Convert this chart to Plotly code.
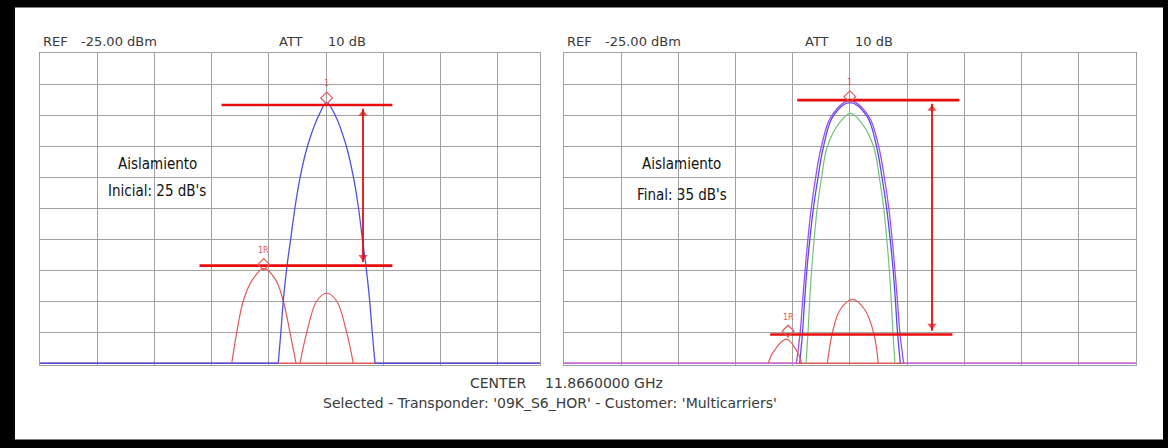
import plotly.graph_objects as go

W, H = 1168, 448

# ---------------- data (screen divisions: x from left edge of each display, y from bottom) -------------
# Left display (initial isolation)
L_BLUE_X = [4.164, 4.208, 4.258, 4.315, 4.382, 4.458, 4.548, 4.680, 4.875, 5.010, 5.156, 5.348, 5.476, 5.563, 5.633, 5.698, 5.755, 5.808, 5.855]
L_BLUE_Y = [0, 0.97, 2.15, 3.12, 4.03, 5.05, 6.02, 7.04, 8.01, 8.41, 8.01, 7.04, 6.02, 5.05, 4.03, 3.12, 2.15, 0.97, 0]
L_RED_A_X = [3.350, 3.437, 3.552, 3.710, 3.914, 4.119, 4.252, 4.369, 4.474]
L_RED_A_Y = [0, 0.99, 2.01, 2.69, 3.06, 2.69, 2.01, 0.99, 0]
L_RED_B_X = [4.544, 4.661, 4.836, 5.010, 5.185, 5.360, 5.476]
L_RED_B_Y = [0, 0.99, 2.01, 2.26, 2.01, 0.99, 0]
L_LEVEL_TOP = 8.33
L_LEVEL_BOT = 3.15
L_TOP_SPAN = [3.173, 6.159]
L_BOT_SPAN = [2.787, 6.159]
L_ARROW_X = 5.645
L_MARKERS = {"1": (5.01, 8.56), "1R": (3.91, 3.19)}

# Right display (final isolation)
R_VIOLET_X = [4.064, 4.131, 4.172, 4.216, 4.265, 4.323, 4.399, 4.498, 4.672, 5.002, 5.332, 5.506, 5.605, 5.681, 5.739, 5.788, 5.832, 5.873, 5.940]
R_VIOLET_Y = [0, 1.0, 1.99, 2.99, 3.98, 4.99, 5.97, 6.97, 7.96, 8.47, 7.96, 6.97, 5.97, 4.99, 3.98, 2.99, 1.99, 1.0, 0]
R_BLUE_X = [4.122, 4.172, 4.207, 4.247, 4.299, 4.361, 4.440, 4.536, 4.702, 5.002, 5.302, 5.468, 5.564, 5.643, 5.705, 5.757, 5.797, 5.832, 5.882]
R_BLUE_Y = [0, 1.0, 1.99, 2.99, 3.98, 4.99, 5.97, 6.97, 7.96, 8.41, 7.96, 6.97, 5.97, 4.99, 3.98, 2.99, 1.99, 1.0, 0]
R_GREEN_X = [4.232, 4.268, 4.296, 4.330, 4.374, 4.428, 4.503, 4.602, 4.810, 5.010, 5.210, 5.418, 5.517, 5.592, 5.646, 5.690, 5.724, 5.752, 5.788]
R_GREEN_Y = [0, 1.0, 1.99, 2.99, 3.98, 4.99, 5.97, 6.97, 7.74, 8.06, 7.74, 6.97, 5.97, 4.99, 3.98, 2.99, 1.99, 1.0, 0]
R_RED_A_X = [3.573, 3.661, 3.892, 4.080, 4.157]
R_RED_A_Y = [0, 0.37, 0.78, 0.37, 0]
R_RED_B_X = [4.605, 4.696, 4.827, 5.049, 5.264, 5.413, 5.497]
R_RED_B_Y = [0, 1.0, 1.72, 2.06, 1.72, 1.0, 0]
R_LEVEL_TOP = 8.49
R_LEVEL_BOT = 0.93
R_TOP_SPAN = [4.08, 6.914]
R_BOT_SPAN = [3.607, 6.792]
R_ARROW_X = 6.435
R_MARKERS = {"1": (5.00, 8.60), "1R": (3.92, 1.04)}

L_XMAX = 8.74
R_XMAX = 10
Y_MAX = 10

HEADER_REF = "REF"
HEADER_REF_VAL = "-25.00 dBm"
HEADER_ATT = "ATT"
HEADER_ATT_VAL = "10 dB"
CENTER_LBL = "CENTER"
CENTER_VAL = "11.8660000 GHz"
FOOTER = "Selected - Transponder: '09K_S6_HOR' - Customer: 'Multicarriers'"
L_NOTE = ["Aislamiento", "Inicial: 25 dB's"]
R_NOTE = ["Aislamiento", "Final: 35 dB's"]

# ---------------- styles ----------------
C_BLUE = "#5050e6"
C_RED = "#e25a5a"
C_REDLINE = "#e80c0c"
C_VIOLET = "#a24cf2"
C_GREEN = "#78c078"
C_BASE_R = "#c46ee6"
C_GRID = "#a0a0a0"
HDR_FONT = dict(family="DejaVu Sans", size=13, color="#3a3a3a")
BOT_FONT = dict(family="DejaVu Sans", size=14, color="#3a3a3a")
NOTE_FONT = dict(family="Liberation Sans Narrow, DejaVu Sans Condensed, Arial Narrow, Liberation Sans", size=15, color="#111111")

# pixel geometry
PX_TOP, PX_BOT0 = 53.3, 363.3
DIV_Y = 31.0
Y_MIN = -0.05
PX_BOT = PX_BOT0 - Y_MIN * DIV_Y
L_LEFT, R_LEFT, DIV_X = 40.1, 563.9, 57.2

fig = go.Figure()

def line(x, y, color, width, xa, ya, spline=True):
    fig.add_trace(go.Scatter(x=x, y=y, mode="lines", xaxis=xa, yaxis=ya,
                             line=dict(color=color, width=width,
                                       shape="spline" if spline else "linear", smoothing=1.0),
                             hoverinfo="skip", showlegend=False))

# ---- left display ----
line([0, L_XMAX], [0, 0], C_RED, 1.4, "x", "y", False)
line([0, L_BLUE_X[0]], [0, 0], C_BLUE, 1.6, "x", "y", False)
line([L_BLUE_X[-1], L_XMAX], [0, 0], C_BLUE, 1.6, "x", "y", False)
line(L_RED_A_X, L_RED_A_Y, C_RED, 1.2, "x", "y")
line(L_RED_B_X, L_RED_B_Y, C_RED, 1.2, "x", "y")
line(L_BLUE_X, L_BLUE_Y, C_BLUE, 1.3, "x", "y")
line(L_TOP_SPAN, [L_LEVEL_TOP] * 2, C_REDLINE, 2.6, "x", "y", False)
line(L_BOT_SPAN, [L_LEVEL_BOT] * 2, C_REDLINE, 2.6, "x", "y", False)

# ---- right display ----
line([0, R_XMAX], [0, 0], C_RED, 1.4, "x2", "y2", False)
line([0, R_VIOLET_X[0]], [0, 0], C_BASE_R, 1.6, "x2", "y2", False)
line([R_VIOLET_X[-1], R_XMAX], [0, 0], C_BASE_R, 1.6, "x2", "y2", False)
line(R_GREEN_X, R_GREEN_Y, C_GREEN, 1.2, "x2", "y2")
line(R_BLUE_X, R_BLUE_Y, C_BLUE, 1.3, "x2", "y2")
line(R_VIOLET_X, R_VIOLET_Y, C_VIOLET, 1.3, "x2", "y2")
line(R_RED_A_X, R_RED_A_Y, C_RED, 1.2, "x2", "y2")
line(R_RED_B_X, R_RED_B_Y, C_RED, 1.2, "x2", "y2")
line(R_TOP_SPAN, [R_LEVEL_TOP] * 2, C_REDLINE, 2.6, "x2", "y2", False)
line(R_BOT_SPAN, [R_LEVEL_BOT] * 2, C_REDLINE, 2.6, "x2", "y2", False)

annotations = []
# markers
for markers, xa, ya in ((L_MARKERS, "x", "y"), (R_MARKERS, "x2", "y2")):
    for name, (mx, my) in markers.items():
        fig.add_trace(go.Scatter(x=[mx], y=[my], mode="markers", xaxis=xa, yaxis=ya,
                                 marker=dict(symbol="diamond-open", size=9, color=C_RED,
                                             line=dict(width=1.2, color=C_RED)),
                                 hoverinfo="skip", showlegend=False))
        annotations.append(dict(x=mx, y=my, xref=xa, yref=ya, text=name, showarrow=False,
                                yshift=14, font=dict(family="DejaVu Sans", size=8, color=C_RED)))

# double arrows: shaft + arrowheads
for ax_x, top, bot, xa, ya in ((L_ARROW_X, L_LEVEL_TOP, L_LEVEL_BOT, "x", "y"),
                               (R_ARROW_X, R_LEVEL_TOP, R_LEVEL_BOT, "x2", "y2")):
    line([ax_x, ax_x], [top - 0.12, bot + 0.12], C_REDLINE, 1.8, xa, ya, False)
    fig.add_trace(go.Scatter(x=[ax_x, ax_x], y=[top - 0.28, bot + 0.28], mode="markers", xaxis=xa, yaxis=ya,
                             marker=dict(symbol=["triangle-up", "triangle-down"], size=[8, 8],
                                         color=C_REDLINE, line=dict(width=0)),
                             hoverinfo="skip", showlegend=False))

def ptxt(text, px, py, font, xanchor="left"):
    annotations.append(dict(x=px / W, y=1 - py / H, xref="paper", yref="paper", text=text,
                            showarrow=False, xanchor=xanchor, yanchor="middle", font=font))

# headers
for left, att_x, val_x in ((L_LEFT, 277, 326), (R_LEFT, 803, 853)):
    ptxt(HEADER_REF, left + 1, 41.5, HDR_FONT)
    ptxt(HEADER_REF_VAL, left + 39, 41.5, HDR_FONT)
    ptxt(HEADER_ATT, att_x, 41.5, HDR_FONT)
    ptxt(HEADER_ATT_VAL, val_x, 41.5, HDR_FONT)

ptxt(CENTER_LBL, 468, 382.7, BOT_FONT)
ptxt(CENTER_VAL, 543, 382.7, BOT_FONT)
ptxt(FOOTER, 549.7, 403.3, BOT_FONT, "center")

# notes
ptxt(L_NOTE[0], 157, 164, NOTE_FONT, "center")
ptxt(L_NOTE[1], 157, 191, NOTE_FONT, "center")
ptxt(R_NOTE[0], 682, 164, NOTE_FONT, "center")
ptxt(R_NOTE[1], 682, 195, NOTE_FONT, "center")

ydom = [1 - PX_BOT / H, 1 - PX_TOP / H]
axis_common = dict(showticklabels=False, ticks="", showgrid=True, gridcolor=C_GRID, gridwidth=1,
                   zeroline=False, showline=True, mirror=True, linecolor=C_GRID, linewidth=1,
                   dtick=1, tick0=0, fixedrange=True)

shapes = [
    dict(type="rect", xref="paper", yref="paper", x0=0, x1=1, y0=1 - 7.5 / H, y1=1, fillcolor="black", line_width=0, layer="above"),
    dict(type="rect", xref="paper", yref="paper", x0=0, x1=1, y0=0, y1=1 - 439.5 / H, fillcolor="black", line_width=0, layer="above"),
    dict(type="rect", xref="paper", yref="paper", x0=0, x1=15 / W, y0=0, y1=1, fillcolor="black", line_width=0, layer="above"),
    dict(type="rect", xref="paper", yref="paper", x0=1163 / W, x1=1, y0=0, y1=1, fillcolor="black", line_width=0, layer="above"),
]

fig.update_layout(
    width=W, height=H, autosize=False,
    margin=dict(l=0, r=0, t=0, b=0),
    paper_bgcolor="white", plot_bgcolor="white",
    showlegend=False,
    xaxis=dict(domain=[L_LEFT / W, (L_LEFT + L_XMAX * DIV_X) / W], range=[0, L_XMAX], anchor="y", **axis_common),
    yaxis=dict(domain=ydom, range=[Y_MIN, Y_MAX], anchor="x", **axis_common),
    xaxis2=dict(domain=[R_LEFT / W, (R_LEFT + R_XMAX * DIV_X) / W], range=[0, R_XMAX], anchor="y2", **axis_common),
    yaxis2=dict(domain=ydom, range=[Y_MIN, Y_MAX], anchor="x2", **axis_common),
    annotations=annotations,
    shapes=shapes,
)

fig.write_html("out.html", config={"displayModeBar": False})

# remove the default page margin so the figure sits at the window's origin
with open("out.html", "r", encoding="utf-8") as f:
    html = f.read()
html = html.replace("<head>", "<head><style>html,body{margin:0;padding:0;overflow:hidden;background:white}</style>", 1)
with open("out.html", "w", encoding="utf-8") as f:
    f.write(html)
